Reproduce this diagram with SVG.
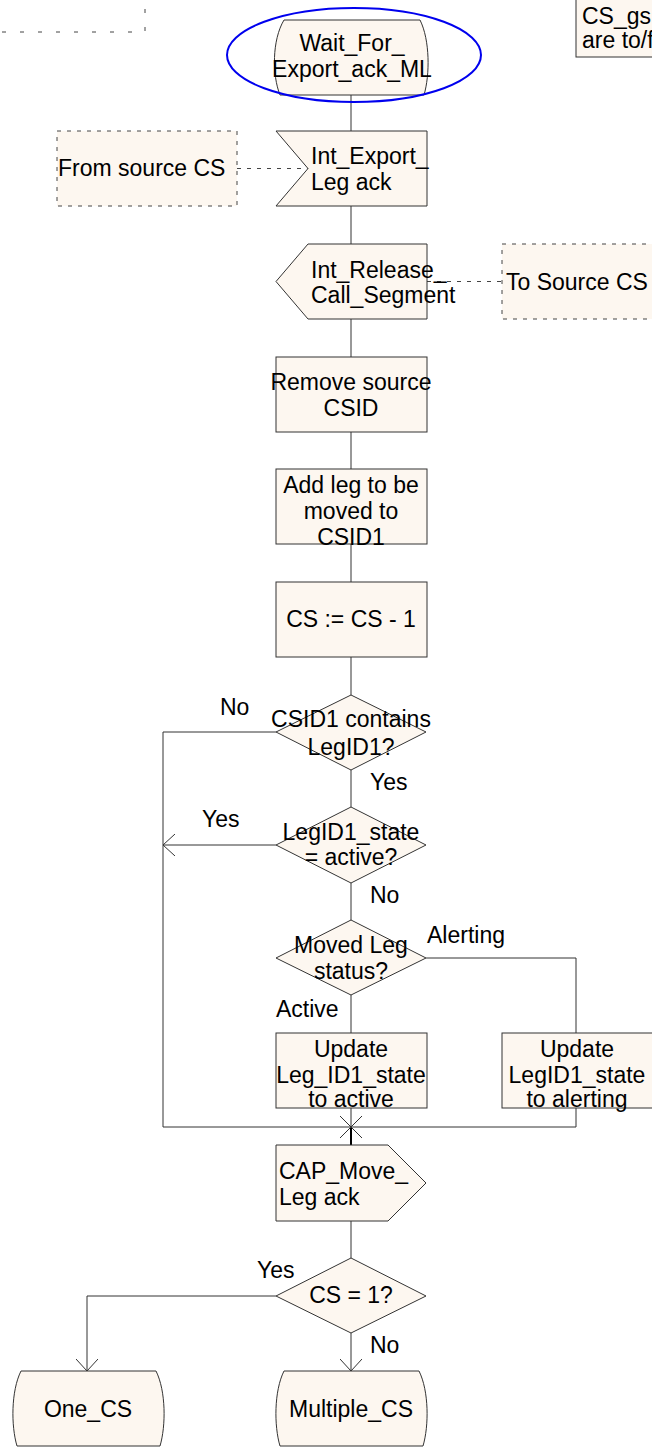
<svg xmlns="http://www.w3.org/2000/svg" width="652" height="1447" viewBox="0 0 652 1447">
<style>
text{font-family:"Liberation Sans",Arial,sans-serif;font-size:23px;fill:#000}
.c{text-anchor:middle}
.sh{fill:#fdf7f0;stroke:#333;stroke-width:1}
.cm{fill:#fdf7f0;stroke:#444;stroke-width:1;stroke-dasharray:4 6}
.ln{fill:none;stroke:#333;stroke-width:1}
.dl{fill:none;stroke:#444;stroke-width:1;stroke-dasharray:4 6}
</style>
<defs>
<marker id="arr" viewBox="0 0 12 22" refX="12" refY="11" markerWidth="12" markerHeight="22" markerUnits="userSpaceOnUse" orient="auto">
<path d="M0,0 L12,11 L0,22" fill="none" stroke="#333" stroke-width="1"/>
</marker>
</defs>
<rect width="652" height="1447" fill="#fff"/>

<g id="comment-topleft">
<path d="M2,32 H145 V2" fill="none" stroke="#444" stroke-dasharray="4 14"/>
</g>
<g id="comment-topright">
<rect x="576" y="-10" width="90" height="67" class="sh"/>
<text x="582" y="24">CS_gs</text>
<text x="582" y="48">are to/f</text>
</g>

<g id="connectors">
<path class="ln" d="M351,95 V131 M351,206 V244 M351,319 V357 M351,432 V469 M351,544 V582 M351,657 V695 M351,770 V807 M351,883 V920 M351,995 V1033 M351,1108 V1127"/>
<path d="M351,1127 V1145" stroke="#000" stroke-width="2" fill="none"/>
<path class="ln" d="M351,1221 V1258"/>
<path class="ln" d="M351,1333 V1371" marker-end="url(#arr)"/>
<path class="ln" d="M276,732 H163 V1127 H576 V1108"/>
<path class="ln" d="M276,845 H163" marker-end="url(#arr)"/>
<path class="ln" d="M426,958 H576 V1033"/>
<path class="ln" d="M276,1296 H87 V1371" marker-end="url(#arr)"/>
<path class="ln" d="M340,1116 L362,1138 M362,1116 L340,1138"/>
<path class="dl" d="M237,168.5 H308"/>
<path class="dl" d="M427,281.5 H502"/>
</g>

<g id="start-state">
<path class="sh" d="M284,20 H420 C430,40 430,75 424,95 H280 C272,75 272,40 284,20 Z"/>
<text class="c" x="352" y="51">Wait_For_</text>
<text class="c" x="352" y="77">Export_ack_ML</text>
<ellipse cx="354" cy="55" rx="127" ry="47" fill="none" stroke="#0000ee" stroke-width="2"/>
</g>

<g id="comment-from">
<rect class="cm" x="57" y="131" width="180" height="75"/>
<text x="58" y="176">From source CS</text>
</g>
<g id="input-export">
<polygon class="sh" points="276,131 427,131 427,206 276,206 308,168.5"/>
<text x="311" y="164">Int_Export_</text>
<text x="311" y="190">Leg ack</text>
</g>

<g id="output-release">
<polygon class="sh" points="308,244 427,244 427,319 308,319 276,281.5"/>
<text x="311" y="278">Int_Release_</text>
<text x="311" y="303">Call_Segment</text>
</g>
<g id="comment-to">
<rect class="cm" x="502" y="244" width="170" height="75"/>
<text x="506" y="290">To Source CS</text>
</g>

<g id="task-remove">
<rect class="sh" x="276" y="357" width="151" height="75"/>
<text class="c" x="351" y="390">Remove source</text>
<text class="c" x="351" y="416">CSID</text>
</g>
<g id="task-add">
<rect class="sh" x="276" y="469" width="151" height="75"/>
<text class="c" x="351" y="493">Add leg to be</text>
<text class="c" x="351" y="519">moved to</text>
<text class="c" x="351" y="545">CSID1</text>
</g>
<g id="task-cs">
<rect class="sh" x="276" y="582" width="151" height="75"/>
<text class="c" x="351" y="627">CS := CS - 1</text>
</g>

<g id="dec-contains">
<polygon class="sh" points="351,695 426,732 351,770 276,732"/>
<text class="c" x="351" y="727">CSID1 contains</text>
<text class="c" x="351" y="755">LegID1?</text>
<text x="220" y="715">No</text>
<text x="370" y="790">Yes</text>
</g>
<g id="dec-active">
<polygon class="sh" points="351,807 426,845 351,883 276,845"/>
<text class="c" x="351" y="840">LegID1_state</text>
<text class="c" x="351" y="865">= active?</text>
<text x="202" y="827">Yes</text>
<text x="370" y="903">No</text>
</g>
<g id="dec-moved">
<polygon class="sh" points="351,920 426,958 351,995 276,958"/>
<text class="c" x="351" y="953">Moved Leg</text>
<text class="c" x="351" y="979">status?</text>
<text x="427" y="943">Alerting</text>
<text x="276" y="1017">Active</text>
</g>

<g id="task-upd-active">
<rect class="sh" x="276" y="1033" width="151" height="75"/>
<text class="c" x="351" y="1057">Update</text>
<text class="c" x="351" y="1083">Leg_ID1_state</text>
<text class="c" x="351" y="1107">to active</text>
</g>
<g id="task-upd-alerting">
<rect class="sh" x="502" y="1033" width="151" height="75"/>
<text class="c" x="577" y="1057">Update</text>
<text class="c" x="577" y="1083">LegID1_state</text>
<text class="c" x="577" y="1107">to alerting</text>
</g>

<g id="output-cap">
<polygon class="sh" points="276,1145 388,1145 426,1183 388,1221 276,1221"/>
<text x="279" y="1179">CAP_Move_</text>
<text x="279" y="1205">Leg ack</text>
</g>

<g id="dec-cs1">
<polygon class="sh" points="351,1258 426,1296 351,1333 276,1296"/>
<text class="c" x="351" y="1303">CS = 1?</text>
<text x="257" y="1278">Yes</text>
<text x="370" y="1353">No</text>
</g>

<g id="state-one">
<path class="sh" d="M21,1371 H156 C166,1391 166,1426 160,1446 H17 C11,1426 11,1391 21,1371 Z"/>
<text class="c" x="88" y="1417">One_CS</text>
</g>
<g id="state-multiple">
<path class="sh" d="M284,1371 H419 C429,1391 429,1426 423,1446 H280 C274,1426 274,1391 284,1371 Z"/>
<text class="c" x="351" y="1417">Multiple_CS</text>
</g>
</svg>
